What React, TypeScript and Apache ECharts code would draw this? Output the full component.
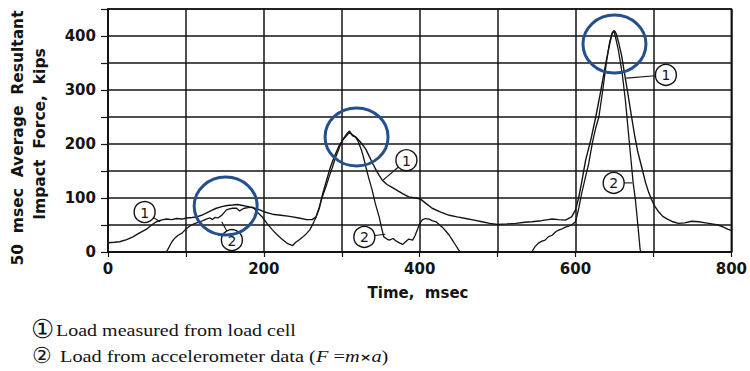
import React, { useEffect, useRef } from "react";
import * as echarts from "echarts";

// Axis tick labels
const timeTicks = [0, 200, 400, 600, 800];
const forceTicks = [0, 100, 200, 300, 400];

// (1) Load measured from load cell: [time msec, force kips]
const loadCell = [
  [0, 17], [8, 18], [15, 19], [24, 23], [32, 28], [40, 35], [50, 43], [56, 50], [62, 56], [68, 59],
  [75, 61], [82, 60], [88, 62], [95, 61], [101, 63], [108, 64], [114, 65], [120, 68], [126, 72], [133, 77],
  [139, 81], [146, 84], [153, 86], [160, 87], [166, 88], [173, 86], [180, 84], [188, 81], [195, 78], [201, 74],
  [211, 70], [222, 68], [233, 66], [245, 63], [255, 60], [262, 60], [267, 65], [271, 80], [275, 105], [280, 130],
  [285, 155], [290, 175], [296, 195], [301, 207], [306, 215], [310, 222], [314, 215], [318, 213], [322, 207], [326, 200],
  [331, 190], [335, 178], [340, 163], [344, 152], [348, 142], [352, 133], [358, 125], [364, 120], [370, 115], [378, 108],
  [386, 102], [395, 100], [401, 98], [408, 90], [416, 81], [427, 74], [438, 68], [448, 65], [459, 62], [470, 59],
  [480, 56], [490, 53], [500, 51], [512, 52], [523, 53], [535, 55], [544, 56], [556, 58], [565, 60], [570, 61],
  [578, 60], [587, 59], [595, 65], [600, 78], [604, 100], [608, 130], [613, 170], [620, 210], [626, 250], [632, 295],
  [638, 343], [643, 380], [647, 405], [650, 410], [652, 405], [655, 390], [659, 365], [663, 330], [667, 295], [672, 250],
  [676, 215], [680, 185], [685, 157], [690, 128], [694, 110], [698, 96], [702, 84], [707, 74], [712, 66], [718, 61],
  [725, 56], [732, 53], [740, 54], [749, 57], [758, 56], [767, 54], [775, 52], [783, 50], [790, 46], [796, 42],
  [800, 40],
];

// (2) Load from accelerometer data, first recorded interval
const accelFirst = [
  [75, 0], [78, 8], [82, 19], [86, 26], [90, 31], [95, 35], [99, 41], [103, 46], [107, 50], [112, 53],
  [118, 56], [122, 58], [126, 61], [131, 63], [134, 60], [137, 64], [141, 63], [144, 66], [146, 68], [149, 73],
  [152, 78], [156, 80], [160, 81], [165, 81], [169, 76], [172, 79], [175, 81], [180, 82], [186, 83], [192, 73],
  [198, 65], [204, 53], [211, 41], [217, 32], [223, 24], [229, 17], [233, 14], [237, 12], [241, 18], [245, 22],
  [250, 28], [254, 33], [259, 41], [263, 52], [267, 65], [271, 82], [275, 102], [280, 122], [284, 140], [288, 157],
  [292, 175], [296, 190], [299, 201], [303, 212], [307, 220], [310, 224], [313, 218], [317, 214], [321, 205], [325, 190],
  [328, 175], [331, 157], [335, 135], [339, 115], [343, 90], [348, 65], [351, 45], [354, 28], [358, 24], [361, 22],
  [366, 25], [370, 20], [374, 17], [378, 14], [382, 19], [386, 24], [391, 22], [394, 30], [397, 41], [400, 52],
  [403, 59], [407, 62], [412, 61], [416, 58], [421, 56], [425, 51], [429, 46], [434, 38], [438, 31], [442, 22],
  [446, 13], [450, 4], [452, 0],
];

// (2) Load from accelerometer data, second recorded interval
const accelSecond = [
  [544, 0], [548, 10], [553, 17], [557, 20], [561, 22], [565, 28], [570, 31], [575, 38], [579, 41], [583, 43],
  [587, 46], [591, 48], [595, 50], [600, 56], [604, 80], [608, 109], [613, 140], [617, 164], [622, 205], [626, 230],
  [630, 250], [635, 300], [640, 355], [644, 390], [647, 405], [649, 410], [651, 400], [655, 374], [660, 330], [664, 281],
  [667, 235], [670, 189], [674, 128], [677, 95], [679, 65], [681, 35], [683, 4], [684, 0],
];

// Numbered curve callouts: label, circle centre and leader end (data coords)
const callouts = [
  { label: "1", at: [47, 74], to: [67, 56] },
  { label: "2", at: [159, 22], to: [146, 56] },
  { label: "1", at: [383, 170], to: [353, 133] },
  { label: "2", at: [329, 28], to: [356, 33] },
  { label: "1", at: [716, 328], to: [665, 322] },
  { label: "2", at: [649, 128], to: [673, 128] },
];

// Peaks highlighted with rings (data coords)
const highlights = [
  [151, 85],
  [319, 213],
  [650, 385],
];

const INK = "#141414";
const RING = "#24508d";
const SANS = "DejaVu Sans";
const SERIF = "Liberation Serif";

export default function App() {
  const ref = useRef<HTMLDivElement>(null);

  useEffect(() => {
    const el = ref.current;
    if (!el) return;
    const chart = echarts.init(el, null, { renderer: "svg" });

    const tickFont = { color: INK, fontFamily: SANS, fontWeight: "bold", fontSize: 15 };

    chart.setOption({
      animation: false,
      backgroundColor: "#ffffff",
      grid: {
        left: 108,
        right: 17,
        top: 9,
        bottom: 119,
        show: true,
        borderColor: INK,
        borderWidth: 1.6,
      },
      xAxis: {
        type: "value",
        min: 0,
        max: 800,
        interval: 100,
        axisLine: { show: true, lineStyle: { color: INK, width: 1.8 } },
        axisTick: { show: true, length: 5, lineStyle: { color: INK, width: 1.2 } },
        axisLabel: {
          ...tickFont,
          margin: 9,
          formatter: (v: number) => (timeTicks.includes(v) ? String(v) : ""),
        },
        splitLine: { show: true, lineStyle: { color: INK, width: 1.5 } },
      },
      yAxis: {
        type: "value",
        min: 0,
        max: 450,
        interval: 50,
        axisLine: { show: true, lineStyle: { color: INK, width: 1.8 } },
        axisTick: { show: true, length: 7, lineStyle: { color: INK, width: 1.2 } },
        axisLabel: {
          ...tickFont,
          margin: 12,
          formatter: (v: number) => (forceTicks.includes(v) ? String(v) : ""),
        },
        splitLine: { show: true, lineStyle: { color: INK, width: 1.6 } },
      },
      series: [
        {
          name: "Load cell",
          type: "line",
          data: loadCell,
          symbol: "none",
          lineStyle: { color: INK, width: 1.4 },
          z: 3,
        },
        {
          name: "Accelerometer",
          type: "line",
          data: [...accelFirst, [498, "-"], ...accelSecond],
          symbol: "none",
          connectNulls: false,
          lineStyle: { color: INK, width: 1.3 },
          z: 3,
        },
      ],
    });

    const px = (p: number[]) => chart.convertToPixel({ gridIndex: 0 }, p) as number[];
    const graphics: any[] = [];

    // Axis titles
    graphics.push({
      type: "text",
      x: 18,
      y: 138,
      rotation: Math.PI / 2,
      style: {
        text: "50  msec  Average  Resultant",
        fill: INK,
        font: `bold 15.5px "${SANS}"`,
        align: "center",
        verticalAlign: "middle",
      },
    });
    graphics.push({
      type: "text",
      x: 40,
      y: 134,
      rotation: Math.PI / 2,
      style: {
        text: "Impact  Force,  kips",
        fill: INK,
        font: `bold 15.5px "${SANS}"`,
        align: "center",
        verticalAlign: "middle",
      },
    });
    graphics.push({
      type: "text",
      x: 418,
      y: 293,
      style: {
        text: "Time,  msec",
        fill: INK,
        font: `bold 15px "${SANS}"`,
        align: "center",
        verticalAlign: "middle",
      },
    });

    // Numbered callouts with leaders
    const R = 10.5;
    callouts.forEach((c) => {
      const [cx, cy] = px(c.at);
      const [ex, ey] = px(c.to);
      const dx = ex - cx;
      const dy = ey - cy;
      const d = Math.hypot(dx, dy) || 1;
      graphics.push({
        type: "line",
        z: 10,
        shape: { x1: cx + (dx / d) * R, y1: cy + (dy / d) * R, x2: ex, y2: ey },
        style: { stroke: INK, lineWidth: 1.1 },
      });
      graphics.push({
        type: "circle",
        z: 10,
        shape: { cx, cy, r: R },
        style: { fill: "#ffffff", stroke: INK, lineWidth: 1.4 },
      });
      graphics.push({
        type: "text",
        z: 11,
        x: cx,
        y: cy + 0.5,
        style: {
          text: c.label,
          fill: INK,
          font: `14px "${SANS}"`,
          align: "center",
          verticalAlign: "middle",
        },
      });
    });

    // Highlight rings around the peaks
    highlights.forEach((h) => {
      const [cx, cy] = px(h);
      graphics.push({
        type: "ellipse",
        z: 12,
        shape: { cx, cy, rx: 31.5, ry: 29 },
        style: { fill: "none", stroke: RING, lineWidth: 3 },
      });
    });

    // Key below the plot
    graphics.push({
      type: "text",
      x: 42,
      y: 329,
      style: { text: "①", fill: INK, font: `26px "${SERIF}"`, align: "center", verticalAlign: "middle" },
    });
    graphics.push({
      type: "text",
      x: 56,
      y: 331,
      scaleX: 1.25,
      style: {
        text: "Load measured from load cell",
        fill: INK,
        font: `16px "${SERIF}"`,
        align: "left",
        verticalAlign: "middle",
      },
    });
    graphics.push({
      type: "text",
      x: 42,
      y: 355,
      style: { text: "②", fill: INK, font: `22px "${SERIF}"`, align: "center", verticalAlign: "middle" },
    });
    graphics.push({
      type: "text",
      x: 60,
      y: 357,
      scaleX: 1.27,
      style: {
        text: "Load from accelerometer data ({i|F} ={i|m}{x|×}{i|a})",
        fill: INK,
        font: `16px "${SERIF}"`,
        align: "left",
        verticalAlign: "middle",
        rich: {
          i: { fontFamily: SERIF, fontStyle: "italic", fontSize: 16, fill: INK },
          x: { fontFamily: SANS, fontWeight: "bold", fontSize: 11, fill: INK },
        },
      },
    });

    chart.setOption({ graphic: graphics });

    return () => chart.dispose();
  }, []);

  return (
    <div
      ref={ref}
      style={{ position: "fixed", left: 0, top: 0, width: 750, height: 371, background: "#ffffff" }}
    />
  );
}
